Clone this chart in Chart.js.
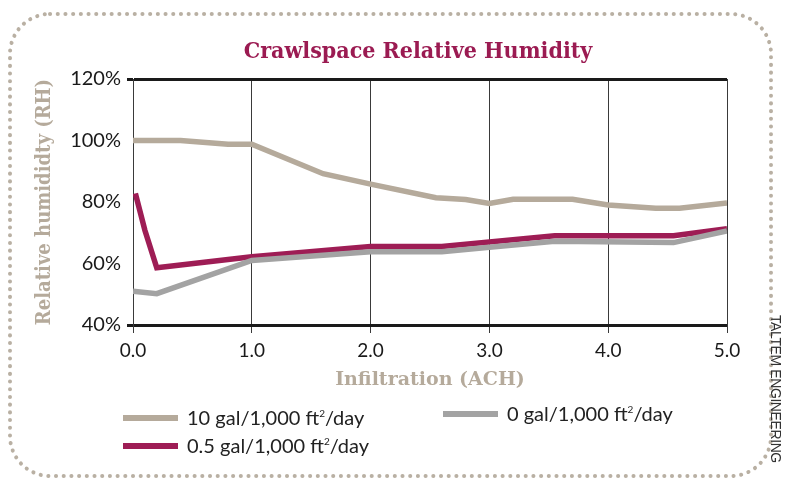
<!DOCTYPE html>
<html>
<head>
<meta charset="utf-8">
<script src="https://cdn.jsdelivr.net/npm/chart.js@4.4.1/dist/chart.umd.min.js"></script>
<style>
  html, body { margin: 0; padding: 0; background: #fff; }
  #wrap { position: relative; width: 787px; height: 485px; }
  #frame { position: absolute; left: 0; top: 0; }
  #chart { position: absolute; left: 0; top: 0; }
  #title { position: absolute; left: 218px; width: 400px; top: 36px; text-align: center; font-family: "DejaVu Serif Condensed", "DejaVu Serif", serif; font-weight: bold; font-size: 23px; color: #9b1b52; white-space: nowrap; }
  .legend { position: absolute; font-family: Lato, "Noto Sans", sans-serif; font-size: 20px; color: #222; white-space: nowrap; }
  .legend span.sw { display: inline-block; width: 55px; height: 6px; vertical-align: middle; margin-right: 9px; position: relative; top: -2px; }
  .legend sup { font-size: 10px; vertical-align: 8px; }
  #credit { position: absolute; left: 771px; top: 315px; font-family: "Liberation Sans Narrow", "Liberation Sans", sans-serif; font-size: 14px; color: #333; transform-origin: 0 0; transform: rotate(90deg) translateY(-13px); white-space: nowrap; letter-spacing: -0.4px; }
</style>
</head>
<body>
<div id="wrap">
  <canvas id="frame" width="787" height="485"></canvas>
  <canvas id="chart" width="787" height="485"></canvas>
  <div id="title">Crawlspace Relative Humidity</div>
  <div class="legend" style="left:123px; top:405px;"><span class="sw" style="background:#b5aa9b"></span>10 gal/1,000 ft<sup>2</sup>/day</div>
  <div class="legend" style="left:443px; top:401px;"><span class="sw" style="background:#a3a3a3"></span>0 gal/1,000 ft<sup>2</sup>/day</div>
  <div class="legend" style="left:123px; top:433px;"><span class="sw" style="background:#9e1d55"></span>0.5 gal/1,000 ft<sup>2</sup>/day</div>
  <div id="credit">TALTEM ENGINEERING</div>
</div>
<script>
// series (x = ACH, y = % RH)
const achTen = [0, 0.4, 0.8, 1.0, 1.6, 2.0, 2.55, 2.8, 3.0, 3.2, 3.7, 4.0, 4.4, 4.6, 5.0];
const rhTen = [100, 100, 98.8, 98.8, 89.2, 85.8, 81.4, 80.8, 79.5, 80.9, 80.9, 79, 78, 78, 79.7];

const achHalf = [0.02, 0.1, 0.2, 1.0, 2.0, 2.6, 3.0, 3.55, 4.55, 5.0];
const rhHalf = [82.8, 70.8, 58.6, 62.2, 65.5, 65.5, 67, 69, 69, 71.3];

const achZero = [0, 0.2, 1.0, 2.0, 2.6, 3.0, 3.55, 4.55, 5.0];
const rhZero = [51, 50.2, 61, 63.8, 63.8, 65.3, 67.2, 66.8, 70.6];

const xTicks = [0, 1, 2, 3, 4, 5];
const yTicks = [40, 60, 80, 100, 120];

const tan = '#b5aa9b';
const grey = '#a3a3a3';
const plum = '#9e1d55';

function pts(xs, ys) {
    return xs.map((x, i) => ({ x: x, y: ys[i] }));
}

function isEdge(c) {
    return c.tick && (c.tick.value === 40 || c.tick.value === 120);
}

// dotted rounded border
function drawFrame() {
    const ctx = document.getElementById('frame').getContext('2d');
    const l = 10, t = 14, r = 771, b = 476, rad = 40;
    const path = new Path2D();
    path.moveTo(l + rad, t);
    path.lineTo(r - rad, t);
    path.arcTo(r, t, r, t + rad, rad);
    path.lineTo(r, b - rad);
    path.arcTo(r, b, r - rad, b, rad);
    path.lineTo(l + rad, b);
    path.arcTo(l, b, l, b - rad, rad);
    path.lineTo(l, t + rad);
    path.arcTo(l, t, l + rad, t, rad);
    ctx.strokeStyle = '#b9b0a3';
    ctx.lineWidth = 4;
    ctx.lineCap = 'round';
    ctx.setLineDash([0.1, 7.6]);
    ctx.stroke(path);
}
drawFrame();

new Chart(document.getElementById('chart'), {
    type: 'line',
    data: {
        datasets: [
            { label: '10 gal/1,000 ft²/day', data: pts(achTen, rhTen), borderColor: tan, borderWidth: 5.5 },
            { label: '0 gal/1,000 ft²/day', data: pts(achZero, rhZero), borderColor: grey, borderWidth: 5.5 },
            { label: '0.5 gal/1,000 ft²/day', data: pts(achHalf, rhHalf), borderColor: plum, borderWidth: 5.5 }
        ]
    },
    options: {
        responsive: false,
        animation: false,
        events: [],
        elements: { point: { radius: 0 }, line: { tension: 0, borderJoinStyle: 'miter' } },
        layout: { padding: { left: 20, right: 60, top: 79, bottom: 85 } },
        plugins: {
            legend: { display: false },
            tooltip: { enabled: false }
        },
        scales: {
            x: {
                type: 'linear',
                min: 0,
                max: 5,
                afterBuildTicks: s => { s.ticks = xTicks.map(v => ({ value: v })); },
                afterFit: s => { s.height = 75; },
                border: { display: false },
                grid: { color: '#3a3a3a', lineWidth: 1, tickLength: 8, tickColor: '#3a3a3a' },
                ticks: {
                    color: '#1a1a1a', padding: 6,
                    font: { family: 'Lato, "Noto Sans", sans-serif', size: 19 },
                    callback: v => v.toFixed(1)
                },
                title: {
                    display: true,
                    text: 'Infiltration (ACH)',
                    color: tan,
                    font: { family: '"DejaVu Serif", serif', size: 19, weight: 'bold' },
                    padding: { top: 0, bottom: 9 }
                }
            },
            y: {
                min: 40,
                max: 120,
                afterBuildTicks: s => { s.ticks = yTicks.map(v => ({ value: v })); },
                afterFit: s => { s.width = 113; },
                border: { display: true, color: '#3a3a3a', width: 1 },
                grid: {
                    color: c => isEdge(c) ? '#1a1a1a' : 'rgba(0,0,0,0)',
                    lineWidth: c => isEdge(c) ? 3 : 0,
                    tickColor: c => isEdge(c) ? '#1a1a1a' : 'rgba(0,0,0,0)',
                    tickWidth: c => isEdge(c) ? 3 : 0,
                    tickLength: 6
                },
                ticks: {
                    color: '#1a1a1a', padding: 6,
                    font: { family: 'Lato, "Noto Sans", sans-serif', size: 20 },
                    callback: v => v + '%'
                },
                title: {
                    display: true,
                    text: 'Relative humididty (RH)',
                    color: tan,
                    font: { family: '"DejaVu Serif Condensed", "DejaVu Serif", serif', size: 20, weight: 'bold' },
                    padding: { top: 13, bottom: 0 }
                }
            }
        }
    }
});
</script>
</body>
</html>
